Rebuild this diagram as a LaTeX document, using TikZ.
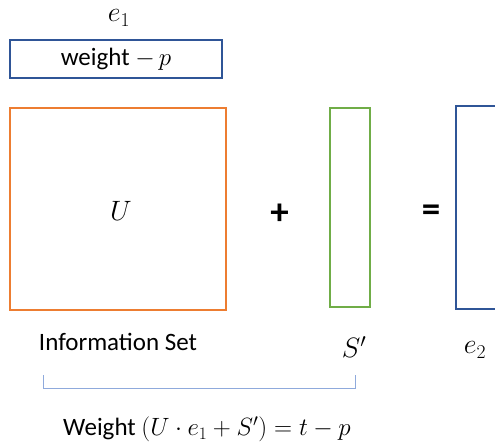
\RequirePackage{fix-cm}
\documentclass[tikz,border=0pt]{standalone}
\usepackage{fontspec}
\setmainfont{Carlito}
\definecolor{boxblue}{HTML}{2F5597}
\definecolor{boxorange}{HTML}{ED7D31}
\definecolor{boxgreen}{HTML}{70AD47}
\definecolor{bracketblue}{HTML}{8FAADC}
\tikzset{
  mat/.style={draw, line width=1.8pt, minimum width=#1, inner sep=0pt},
  lbl/.style={font=\fontsize{25}{28}\selectfont, inner sep=0pt},
  mlbl/.style={font=\fontsize{28}{30}\selectfont, inner sep=0pt},
  opsign/.style={font=\fontsize{37}{39}\selectfont\bfseries, inner sep=0pt}
}
\begin{document}
\begin{tikzpicture}[x=1pt,y=1pt]
\clip (0,0) rectangle (495,-447);
\fill[white] (0,0) rectangle (495,-447);
% e1 box
\node[mat=212pt, boxblue, minimum height=38pt, text=black, lbl] (e1box) at (116,-59) {weight $-\,p$};
\node[mlbl] (e1lbl) at (119,-18) {$e_1$};
% U square
\node[mat=216pt, boxorange, minimum height=202pt] (Ubox) at (118,-209) {};
\node[mlbl] (Ulbl) at (121,-211) {$U$};
\node[opsign] (plus) at (279.5,-214) {+};
% S' vector
\node[mat=40pt, boxgreen, minimum height=199pt] (Sbox) at (350,-207.5) {};
\node[opsign] (eq) at (431,-213) {=};
% e2 vector
\node[mat=60pt, boxblue, minimum height=203pt] (e2box) at (486,-207.5) {};
% labels
\node[lbl] (info) at (118,-342) {Information Set};
\node[mlbl] (Slbl) at (354,-347) {$S'$};
\node[mlbl] (e2lbl) at (475,-350) {$e_2$};
% bracket
\coordinate (bl) at (43,-375);
\coordinate (br) at (355,-375);
\draw[bracketblue, line width=0.9pt] (bl) -- ++(0,-13) -| (br);
% formula
\node[lbl] (formula) at (207,-429) {Weight $(U\cdot e_1+S') = t-p$};
\end{tikzpicture}
\end{document}
